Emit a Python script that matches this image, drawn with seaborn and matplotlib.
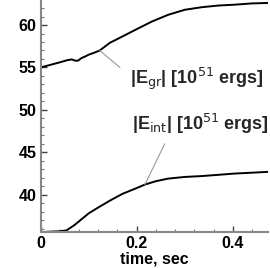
import numpy as np
import pandas as pd
import seaborn as sns
import matplotlib
matplotlib.use("Agg")
import matplotlib.pyplot as plt
from matplotlib.ticker import MultipleLocator

# data
t_gr = [0.0, 0.02, 0.04, 0.055, 0.065, 0.072, 0.078, 0.085, 0.093, 0.10, 0.11, 0.123,
        0.144, 0.165, 0.196, 0.231, 0.265, 0.30, 0.335, 0.37, 0.404, 0.44, 0.473]
e_gr = [55.0, 55.3, 55.6, 55.85, 55.95, 55.8, 55.8, 56.1, 56.3, 56.5, 56.7, 57.0,
        57.9, 58.5, 59.4, 60.4, 61.2, 61.8, 62.1, 62.3, 62.4, 62.55, 62.6]
t_int = [0.0, 0.02, 0.04, 0.054, 0.07, 0.085, 0.10, 0.12, 0.144, 0.17, 0.196, 0.217,
         0.24, 0.265, 0.30, 0.335, 0.37, 0.404, 0.44, 0.473]
e_int = [35.6, 35.65, 35.7, 35.8, 36.4, 37.1, 37.8, 38.5, 39.3, 40.1, 40.7, 41.2,
         41.6, 41.9, 42.1, 42.2, 42.35, 42.5, 42.6, 42.7]

lab_gr = "|E$_{\\rm gr}$| [10$^{51}$ ergs]"
lab_int = "|E$_{\\rm int}$| [10$^{51}$ ergs]"

sns.set_style("ticks")
plt.rcParams['font.family'] = ['Liberation Sans', 'DejaVu Sans']

df_gr = pd.DataFrame({"t": t_gr, "e": e_gr})
df_int = pd.DataFrame({"t": t_int, "e": e_int})

fig = plt.figure(figsize=(2.70, 2.68), dpi=100)
ax = fig.add_axes([0.150, 0.134, 0.843, 0.866])
sns.lineplot(data=df_gr, x="t", y="e", color="black", lw=1.4, ax=ax)
sns.lineplot(data=df_int, x="t", y="e", color="black", lw=1.4, ax=ax)

ax.set_xlim(0, 0.473)
ax.set_ylim(35.6, 62.95)
ax.xaxis.set_minor_locator(MultipleLocator(0.04))
ax.yaxis.set_minor_locator(MultipleLocator(1))
ax.set_xticks([0, 0.2, 0.4])
ax.set_xticklabels(["0", "0.2", "0.4"])
ax.set_yticks([40, 45, 50, 55, 60])
ax.tick_params(which="major", direction="in", length=4, width=1, color="#444444",
               labelsize=11.5, labelcolor="black", pad=3)
ax.tick_params(which="minor", direction="in", length=2, width=0.8, color="#777777")
for lbl in ax.get_xticklabels() + ax.get_yticklabels():
    lbl.set_fontweight("bold")

sns.despine(ax=ax)
for s in ["left", "bottom"]:
    ax.spines[s].set_color("#888888")
    ax.spines[s].set_linewidth(1.5)

ax.set_xlabel("time, sec", fontsize=11.5, fontweight="bold", color="black", labelpad=0)
ax.set_ylabel("")

# leader lines and labels
ax.annotate("", xy=(0.123, 57.0), xytext=(0.165, 55.0),
            arrowprops=dict(arrowstyle="-", color="#999999", lw=0.8, shrinkA=0, shrinkB=0))
ax.text(0.185, 53.7, lab_gr, fontsize=13, fontweight="bold", va="center", ha="left")
ax.annotate("", xy=(0.217, 41.2), xytext=(0.258, 46.0),
            arrowprops=dict(arrowstyle="-", color="#999999", lw=0.8, shrinkA=0, shrinkB=0))
ax.text(0.19, 48.4, lab_int, fontsize=13, fontweight="bold", va="center", ha="left",
        clip_on=False)

fig.savefig("out.png", dpi=100)
